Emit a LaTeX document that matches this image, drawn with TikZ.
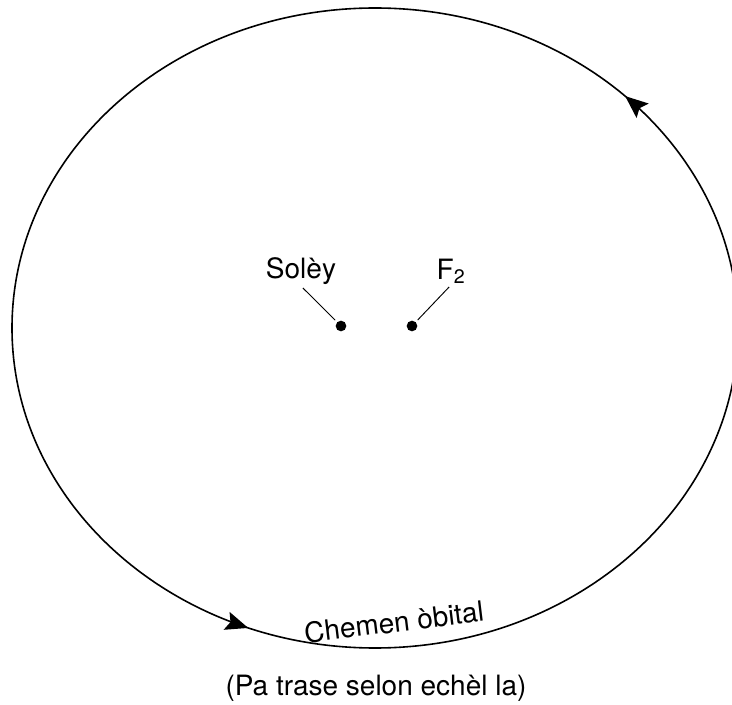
\documentclass[tikz,border=0pt]{standalone}
\usepackage{fontspec}
\setmainfont{TeX Gyre Heros}
\usetikzlibrary{arrows.meta,positioning,decorations.markings}

\begin{document}
\begin{tikzpicture}[x=0.75pt,y=0.75pt,
  dot/.style={circle,fill=black,inner sep=0pt,minimum size=8pt},
  lbl/.style={font=\fontsize{21}{25}\selectfont,inner sep=1pt},
  leader/.style={line width=0.7pt,shorten <=2pt,shorten >=2pt},
  orbit/.style={line width=1.2pt,postaction={decorate},decoration={markings,
    mark=at position 0.124 with {\arrow{Stealth[length=17pt,width=14pt,inset=3pt]}},
    mark=at position 0.690 with {\arrow{Stealth[length=17pt,width=14pt,inset=3pt]}}}}]
\useasboundingbox (0,0) rectangle (732,704);
\coordinate (orbc) at (375,376);
\draw[orbit] (orbc) ellipse [x radius=363,y radius=320];
% foci
\node[dot] (sun) at (341,378) {};
\node[dot] (ftwo) at (412,378) {};
\node[lbl] (soley) at (301,433) {Solèy};
\node[lbl] (flabel) at (451,433) {F\textsubscript{2}};
\draw[leader] (soley.south) -- (sun);
\draw[leader] (flabel.south) -- (ftwo);
% labels
\node[lbl,rotate=7] (orbitlbl) at (394,82) {Chemen òbital};
\node[lbl] (note) at (376,16) {(Pa trase selon echèl la)};
\end{tikzpicture}
\end{document}
